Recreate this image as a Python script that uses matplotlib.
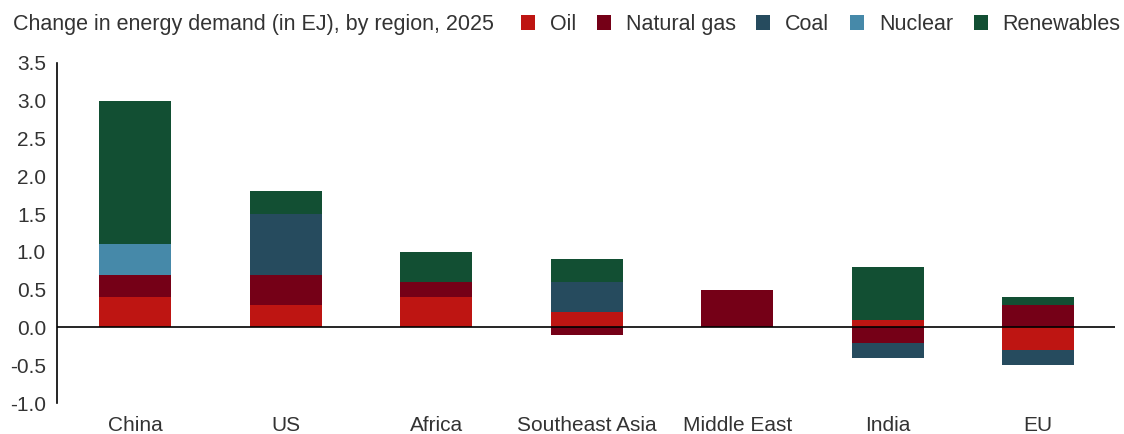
import matplotlib.pyplot as plt
import numpy as np

regions = ["China", "US", "Africa", "Southeast Asia", "Middle East", "India", "EU"]
oil = [0.4, 0.3, 0.4, 0.2, 0.0, 0.1, -0.3]
gas = [0.3, 0.4, 0.2, -0.1, 0.5, -0.2, 0.3]
coal = [0.0, 0.8, 0.0, 0.4, 0.0, -0.2, -0.2]
nuclear = [0.4, 0.0, 0.0, 0.0, 0.0, 0.0, 0.0]
renewables = [1.9, 0.3, 0.4, 0.3, 0.0, 0.7, 0.1]

series = [("Oil", oil, "#BE1512"),
          ("Natural gas", gas, "#750017"),
          ("Coal", coal, "#264B5E"),
          ("Nuclear", nuclear, "#4689A9"),
          ("Renewables", renewables, "#124F33")]

plt.rcParams['font.family'] = ['Liberation Sans', 'DejaVu Sans']

fig = plt.figure(figsize=(11.24, 4.34), dpi=100)
ax = fig.add_axes([0.0507, 0.0714, 0.9413, 0.7836])

x = np.arange(len(regions))
pos_base = np.zeros(len(regions))
neg_base = np.zeros(len(regions))
for name, vals, col in series:
    v = np.array(vals)
    bottom = np.where(v >= 0, pos_base, neg_base)
    ax.bar(x, v, width=0.48, bottom=bottom, color=col, label=name, linewidth=0)
    pos_base = pos_base + np.where(v > 0, v, 0)
    neg_base = neg_base + np.where(v < 0, v, 0)

ax.axhline(0, color="black", linewidth=1.2)
ax.set_xlim(-0.52, 6.51)
ax.set_ylim(-1.0, 3.5)
ticks = np.arange(-1.0, 3.51, 0.5)
ax.set_yticks(ticks)
ax.set_yticklabels(["%.1f" % t for t in ticks])
ax.set_xticks(x)
ax.set_xticklabels(regions)
ax.tick_params(axis="both", length=0, labelsize=15, colors="#333333")
ax.tick_params(axis="y", pad=8)
ax.tick_params(axis="x", pad=9)
for s in ["top", "right", "bottom"]:
    ax.spines[s].set_visible(False)
ax.spines["left"].set_color("black")
ax.spines["left"].set_linewidth(1.2)

fig.text(0.012, 0.943, "Change in energy demand (in EJ), by region, 2025",
         fontsize=15.5, color="#333333", va="center", ha="left")
fig.legend(loc="center right", bbox_to_anchor=(0.997, 0.943), ncol=5, frameon=False,
           fontsize=15.5, handlelength=0.65, handleheight=0.65, handletextpad=0.7,
           columnspacing=0.95, borderpad=0, borderaxespad=0, labelcolor="#333333")

fig.savefig("out.png", dpi=100)
